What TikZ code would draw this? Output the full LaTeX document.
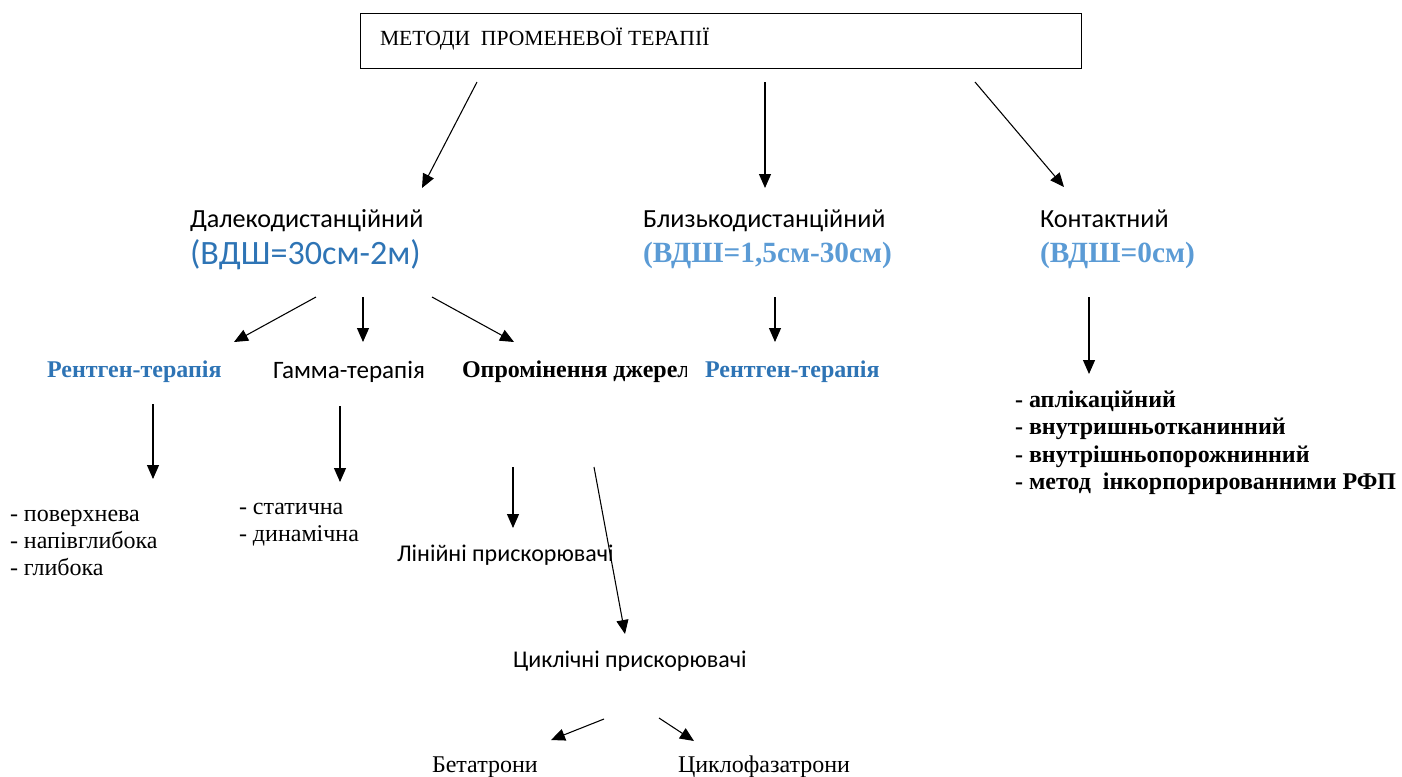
\documentclass[tikz,border=0pt]{standalone}
\usepackage{fontspec}
\setmainfont{Liberation Serif}
\newfontfamily\carl{Carlito}
\usetikzlibrary{arrows.meta}
\definecolor{dblue}{HTML}{2E74B5}
\definecolor{lblue}{HTML}{5B9BD5}
\tikzset{
  arr/.style={line width=0.8pt,-{Triangle[length=10.5pt,width=9pt]}},
  lbl/.style={anchor=base west,inner sep=0pt,outer sep=0pt},
  ttl/.style={lbl,font=\fontsize{16.2}{19}\selectfont},
  cal/.style={lbl,font=\carl\fontsize{19.6}{23}\selectfont},
  cals/.style={lbl,font=\carl\fontsize{18}{21}\selectfont},
  calg/.style={lbl,font=\carl\fontsize{18.8}{22}\selectfont},
  calb/.style={lbl,font=\carl\fontsize{25.6}{30}\selectfont,text=dblue},
  tbb/.style={lbl,font=\bfseries\fontsize{22}{26}\selectfont,text=lblue},
  tbd/.style={lbl,font=\bfseries\fontsize{18}{22}\selectfont,text=dblue},
  tbk/.style={lbl,font=\bfseries\fontsize{18}{22}\selectfont},
  tr/.style={lbl,font=\fontsize{18}{22}\selectfont},
  lst/.style={lbl,align=left,font=\fontsize{18}{20.2}\selectfont},
  lstb/.style={lbl,align=left,font=\bfseries\fontsize{18}{20.5}\selectfont}
}
\begin{document}
\begin{tikzpicture}[x=0.75pt,y=-0.75pt]
\useasboundingbox (0,0) rectangle (1402,776);
% top box
\node[draw,line width=0.9pt,minimum width=721*0.75pt,minimum height=55*0.75pt,anchor=north west,inner sep=0pt] (box) at (360,13) {};
\node[ttl] (title) at (380,45) {МЕТОДИ\ \ ПРОМЕНЕВОЇ ТЕРАПІЇ};
% level 1
\node[cal] (far) at (190,227) {Далекодистанційний};
\node[calb] (farv) at (190,264) {(ВДШ=30см-2м)};
\node[cal] (near) at (643,227) {Близькодистанційний};
\node[tbb] (nearv) at (643,262) {(ВДШ=1,5см-30см)};
\node[cal] (cont) at (1040,227) {Контактний};
\node[tbb] (contv) at (1040,262) {(ВДШ=0см)};
% level 2
\node[tbd] (rt1) at (47,377) {Рентген-терапія};
\node[calg] (gam) at (273,378) {Гамма-терапія};
\begin{scope}
\clip (455,340) rectangle (686,400);
\node[tbk] (src) at (462,377) {Опромінення джерел};
\end{scope}
\node[tbd] (rt2) at (705,377) {Рентген-терапія};
% lists
\node[lst,anchor=north west] (l1) at (10,510) {- поверхнева\\- напівглибока\\- глибока};
\node[lst,anchor=north west] (l2) at (239,503) {- статична\\- динамічна};
\node[cals] (lin) at (397,561) {Лінійні прискорювачі};
\node[cals] (cyc) at (513,667) {Циклічні прискорювачі};
\node[tr] (bet) at (432,772) {Бетатрони};
\node[tr] (cph) at (678,772) {Циклофазатрони};
\node[lstb,anchor=north west] (l3) at (1015,391) {- аплікаційний\\- внутришньотканинний\\- внутрішньопорожнинний\\- метод\ \ інкорпорированними РФП};
% arrow endpoints
\coordinate (a1s) at (477,82);  \coordinate (a1e) at (422,188);
\coordinate (a2s) at (765,82);  \coordinate (a2e) at (765,188);
\coordinate (a3s) at (975,82);  \coordinate (a3e) at (1064,187);
\coordinate (b1s) at (316,297); \coordinate (b1e) at (234,342);
\coordinate (b2s) at (363,297); \coordinate (b2e) at (363,342);
\coordinate (b3s) at (432,297); \coordinate (b3e) at (514,342);
\coordinate (b4s) at (775,297); \coordinate (b4e) at (775,342);
\coordinate (b5s) at (1089,297);\coordinate (b5e) at (1089,374);
\coordinate (c1s) at (153,404); \coordinate (c1e) at (153,479);
\coordinate (c2s) at (340,406); \coordinate (c2e) at (340,482);
\coordinate (c3s) at (513,467); \coordinate (c3e) at (513,528);
\coordinate (c4s) at (594,467); \coordinate (c4e) at (625,634);
\coordinate (d1s) at (604,719); \coordinate (d1e) at (551,740);
\coordinate (d2s) at (659,718); \coordinate (d2e) at (694,741);
\foreach \p in {a1,a2,a3,b1,b2,b3,b4,b5,c1,c2,c3,c4,d1,d2}
  \draw[arr] (\p s) -- (\p e);
\end{tikzpicture}
\end{document}
